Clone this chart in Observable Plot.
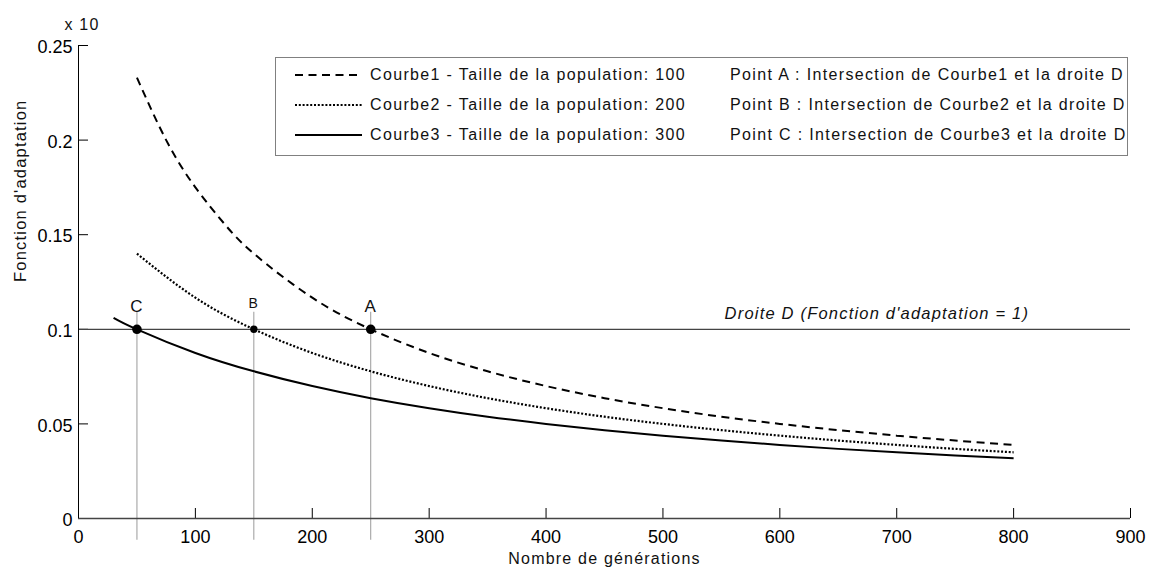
<!DOCTYPE html>
<html>
<head>
<meta charset="utf-8">
<script src="https://cdn.jsdelivr.net/npm/d3@7"></script>
<script src="https://cdn.jsdelivr.net/npm/@observablehq/plot@0.6"></script>
<style>
  html, body { margin: 0; padding: 0; background: #fff; }
  #wrap { position: relative; width: 1152px; height: 573px; font-family: "Liberation Sans", Arial, sans-serif; }
  #wrap svg g[aria-label="text"] text { letter-spacing: 1.2px; }
  #legend { position: absolute; left: 275px; top: 57px; width: 853px; height: 99px; border: 1px solid #808080; background: #fff; box-sizing: border-box; }
  #legend .row { position: absolute; height: 20px; line-height: 20px; font-size: 16px; letter-spacing: 1.35px; color: #111; white-space: nowrap; }
  #legend svg { position: absolute; }
</style>
</head>
<body>
<div id="wrap"></div>
<script>
// Curve 1 — population 100
const gens1 = [50, 75, 100, 125, 150, 200, 250, 300, 350, 400, 450, 500, 550, 600, 650, 700, 750, 800];
const fit1  = [0.233, 0.2, 0.175, 0.1556, 0.14, 0.1167, 0.1, 0.0875, 0.0778, 0.07, 0.0636, 0.0583, 0.0538, 0.05, 0.0467, 0.0438, 0.0412, 0.0389];
// Curve 2 — population 200
const gens2 = [50, 100, 150, 200, 250, 300, 350, 400, 450, 500, 550, 600, 650, 700, 750, 800];
const fit2  = [0.14, 0.1167, 0.1, 0.0875, 0.0778, 0.07, 0.0636, 0.0583, 0.0538, 0.05, 0.0467, 0.0438, 0.0412, 0.0389, 0.0368, 0.035];
// Curve 3 — population 300
const gens3 = [30, 50, 100, 150, 200, 250, 300, 350, 400, 450, 500, 550, 600, 650, 700, 750, 800];
const fit3  = [0.1061, 0.1, 0.0875, 0.0778, 0.07, 0.0636, 0.0583, 0.0538, 0.05, 0.0467, 0.0438, 0.0412, 0.0389, 0.0368, 0.035, 0.0333, 0.0318];
// Intersection points with the line D
const pointLabels = ["A", "B", "C"];
const pointGens   = [250, 150, 50];
const pointFit    = [0.1, 0.1, 0.1];
const droiteD = 0.1;
// Axes
const xTicks = [0, 100, 200, 300, 400, 500, 600, 700, 800, 900];
const yTicks = [0, 0.05, 0.1, 0.15, 0.2, 0.25];
// Texts
const legendCurves = ["Courbe1 - Taille de la population: 100", "Courbe2 - Taille de la population: 200", "Courbe3 - Taille de la population: 300"];
const legendPoints = ["Point A : Intersection de Courbe1 et la droite D", "Point B : Intersection de Courbe2 et la droite D", "Point C : Intersection de Courbe3 et la droite D"];
const droiteLabel = "Droite D (Fonction d'adaptation = 1)";
const xLabel = "Nombre de générations";
const yLabel = "Fonction d'adaptation";
const yExponent = "x 10";

const toRows = (xs, ys) => xs.map((g, i) => ({gen: g, fit: ys[i]}));
const c1 = toRows(gens1, fit1), c2 = toRows(gens2, fit2), c3 = toRows(gens3, fit3);
const pts = pointLabels.map((l, i) => ({label: l, gen: pointGens[i], fit: pointFit[i]}));

const dashes = ["8,5.5", "2,1.8", null];
const widths = [2, 2.2, 2];

const chart = Plot.plot({
  width: 1152, height: 573,
  marginLeft: 78, marginRight: 22, marginTop: 45, marginBottom: 55,
  x: {domain: [0, 900], label: null},
  y: {domain: [0, 0.25], label: null},
  r: {type: "identity"},
  style: {fontFamily: "'Liberation Sans', Arial, sans-serif", fontSize: "18px", color: "#000", background: "#fff", overflow: "visible"},
  marks: [
    Plot.axisX(xTicks, {tickSize: 0, tickPadding: 12, fontSize: 18, label: null}),
    Plot.axisY(yTicks, {tickSize: 0, tickPadding: 6, dy: 2, fontSize: 18, label: null, tickFormat: d => String(d)}),
    Plot.tickX(xTicks.slice(1), {x: d => d, insetTop: 463, stroke: "#000", strokeWidth: 1}),
    Plot.tickY(yTicks.slice(1), {y: d => d, insetRight: 1042, stroke: "#000", strokeWidth: 1}),
    Plot.ruleX(pts, {x: "gen", y1: -0.0115, y2: 0.109, stroke: "#9a9a9a", strokeWidth: 1}),
    Plot.ruleY([droiteD], {stroke: "#444", strokeWidth: 1.2}),
    Plot.ruleY([0], {stroke: "#444", strokeWidth: 1.5}),
    Plot.ruleX([0], {y1: 0, y2: 0.25, stroke: "#000", strokeWidth: 1}),
    Plot.line(c1, {x: "gen", y: "fit", curve: "natural", stroke: "#000", strokeWidth: widths[0], strokeDasharray: dashes[0], strokeLinecap: "butt"}),
    Plot.line(c2, {x: "gen", y: "fit", curve: "natural", stroke: "#000", strokeWidth: widths[1], strokeDasharray: dashes[1], strokeLinecap: "butt"}),
    Plot.line(c3, {x: "gen", y: "fit", curve: "natural", stroke: "#000", strokeWidth: widths[2], strokeLinecap: "butt"}),
    Plot.dot(pts, {x: "gen", y: "fit", r: d => d.label === "B" ? 3.7 : 4.8, fill: "#000", stroke: "none"}),
    Plot.text(pts.filter(d => d.label !== "B"), {x: "gen", y: "fit", text: "label", dy: -23, fontSize: 17, fill: "#111"}),
    Plot.text(pts.filter(d => d.label === "B"), {x: "gen", y: "fit", text: "label", dy: -26, fontSize: 14, fill: "#111"}),
    Plot.text([droiteLabel], {x: 683, y: droiteD, dy: -16, fontSize: 16.5, fontStyle: "italic", fill: "#111"}),
    Plot.text([xLabel], {frameAnchor: "bottom", dy: 45, fontSize: 16, fill: "#111"}),
    Plot.text([yLabel], {frameAnchor: "left", dx: -58, rotate: -90, fontSize: 16.5, fill: "#111"}),
    Plot.text([yExponent], {frameAnchor: "top-left", dx: -14, dy: -27, textAnchor: "start", fontSize: 16, fill: "#111"})
  ]
});

const wrap = document.getElementById("wrap");
wrap.appendChild(chart);

// Legend (HTML overlay)
const legend = document.createElement("div");
legend.id = "legend";
const ns = "http://www.w3.org/2000/svg";
legendCurves.forEach((txt, i) => {
  const cy = 17 + 30 * i;
  const s = document.createElementNS(ns, "svg");
  s.setAttribute("width", 70); s.setAttribute("height", 10);
  s.style.left = "19px"; s.style.top = (cy - 5) + "px";
  const ln = document.createElementNS(ns, "line");
  ln.setAttribute("x1", 0); ln.setAttribute("x2", 67); ln.setAttribute("y1", 5); ln.setAttribute("y2", 5);
  ln.setAttribute("stroke", "#000"); ln.setAttribute("stroke-width", widths[i]);
  if (dashes[i]) ln.setAttribute("stroke-dasharray", dashes[i]);
  s.appendChild(ln);
  legend.appendChild(s);
  const t1 = document.createElement("div");
  t1.className = "row"; t1.textContent = txt;
  t1.style.left = "94px"; t1.style.top = (cy - 10) + "px";
  legend.appendChild(t1);
  const t2 = document.createElement("div");
  t2.className = "row"; t2.textContent = legendPoints[i];
  t2.style.left = "454px"; t2.style.top = (cy - 10) + "px";
  legend.appendChild(t2);
});
wrap.appendChild(legend);
</script>
</body>
</html>
